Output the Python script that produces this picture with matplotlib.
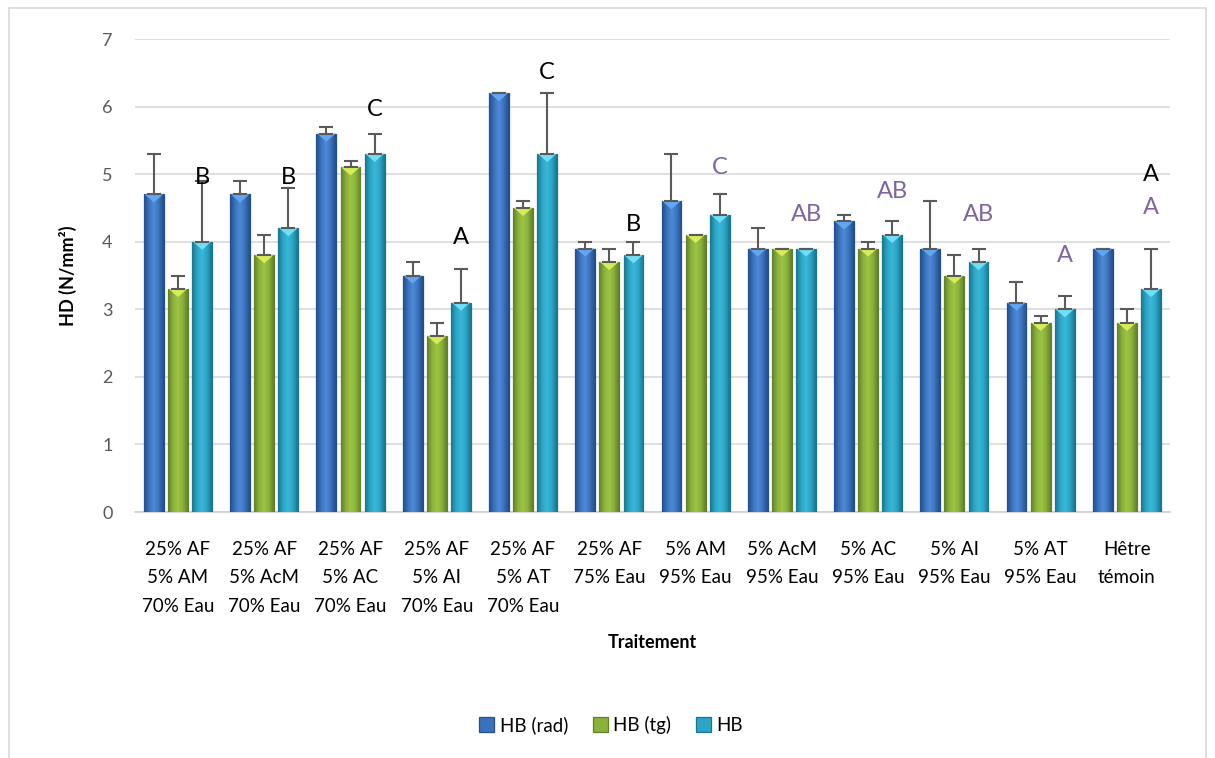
import numpy as np
import matplotlib
matplotlib.use("Agg")
import matplotlib.pyplot as plt
from matplotlib.patches import Rectangle, Polygon
from matplotlib.colors import LinearSegmentedColormap

# ---------------- DATA ----------------
categories = ["25% AF\n5% AM\n70% Eau", "25% AF\n5% AcM\n70% Eau", "25% AF\n5% AC\n70% Eau",
              "25% AF\n5% AI\n70% Eau", "25% AF\n5% AT\n70% Eau", "25% AF\n75% Eau",
              "5% AM\n95% Eau", "5% AcM\n95% Eau", "5% AC\n95% Eau", "5% AI\n95% Eau",
              "5% AT\n95% Eau", "Hêtre\ntémoin"]
hb_rad = [4.7, 4.7, 5.6, 3.5, 6.2, 3.9, 4.6, 3.9, 4.3, 3.9, 3.1, 3.9]
hb_rad_err = [0.6, 0.2, 0.1, 0.2, 0.0, 0.1, 0.7, 0.3, 0.1, 0.7, 0.3, 0.0]
hb_tg = [3.3, 3.8, 5.1, 2.6, 4.5, 3.7, 4.1, 3.9, 3.9, 3.5, 2.8, 2.8]
hb_tg_err = [0.2, 0.3, 0.1, 0.2, 0.1, 0.2, 0.0, 0.0, 0.1, 0.3, 0.1, 0.2]
hb = [4.0, 4.2, 5.3, 3.1, 5.3, 3.8, 4.4, 3.9, 4.1, 3.7, 3.0, 3.3]
hb_err = [0.9, 0.6, 0.3, 0.5, 0.9, 0.2, 0.3, 0.0, 0.2, 0.2, 0.2, 0.6]

# letters above each group (black set and purple set), with their heights
letters_black = ["B", "B", "C", "A", "C", "B", "", "", "", "", "", "A"]
letters_black_y = [4.95, 4.95, 5.95, 4.07, 6.5, 4.25, 0, 0, 0, 0, 0, 5.0]
letters_purple = ["", "", "", "", "", "", "C", "AB", "AB", "AB", "A", "A"]
letters_purple_y = [0, 0, 0, 0, 0, 0, 5.1, 4.4, 4.75, 4.4, 3.8, 4.5]

series = [("HB (rad)", hb_rad, hb_rad_err, "#3a72bd", "#234f8a", "#4f8ad6", "#62a6f2"),
          ("HB (tg)", hb_tg, hb_tg_err, "#8ab13a", "#61802a", "#9dc444", "#d6ec5a"),
          ("HB", hb, hb_err, "#2aa5c6", "#1a7690", "#3bb7d8", "#72def5")]

# ---------------- PLOT ----------------
plt.rcParams['font.family'] = ['Lato', 'DejaVu Sans']
fig = plt.figure(figsize=(12.15, 7.58), dpi=100)
ax = fig.add_axes([0.111, 0.3245, 0.852, 0.624])

x = np.arange(len(categories))
width = 0.23
step = 0.28
bevel = 0.12   # height of the top bevel triangle, in data units

for i, (name, vals, errs, col, dark, mid, light) in enumerate(series):
    pos = x + (i - 1) * step
    bars = ax.bar(pos, vals, width, color=col, edgecolor=dark, linewidth=0.9,
                  zorder=3, label=name)
    cmap = LinearSegmentedColormap.from_list(name, [dark, col, mid, col, dark])
    grad = np.linspace(0, 1, 64).reshape(1, -1)
    for b in bars:
        x0, w, h = b.get_x(), b.get_width(), b.get_height()
        im = ax.imshow(grad, cmap=cmap, aspect='auto', zorder=3.1,
                       extent=(x0, x0 + w, 0, h))
        im.set_clip_path(b)
        ax.add_patch(Polygon([(x0 + 0.01, h), (x0 + w - 0.01, h), (x0 + w / 2, h - bevel)],
                             closed=True, facecolor=light, edgecolor='none', zorder=4))
    ax.errorbar(pos, vals, yerr=[np.zeros(len(errs)), errs], fmt='none',
                ecolor='#5a5a5a', elinewidth=1.5, capsize=5, capthick=1.5, zorder=5)

for i in range(len(categories)):
    if letters_black[i]:
        ax.text(x[i] + step, letters_black_y[i], letters_black[i], ha='center', va='center',
                fontsize=17, color='black', zorder=6)
    if letters_purple[i]:
        ax.text(x[i] + step, letters_purple_y[i], letters_purple[i], ha='center', va='center',
                fontsize=17, color='#8064a2', zorder=6)

ax.set_ylim(0, 7)
ax.set_xlim(-0.5, len(categories) - 0.5)
ax.set_yticks(range(8))
ax.yaxis.grid(True, color='#d9d9d9', linewidth=1.2, zorder=0)
ax.set_axisbelow(True)
for s in ['top', 'right', 'left']:
    ax.spines[s].set_visible(False)
ax.spines['bottom'].set_color('#d0d0d0')
ax.spines['bottom'].set_linewidth(1.2)
ax.tick_params(axis='y', length=0, labelsize=13, labelcolor='#595959', pad=16)
ax.tick_params(axis='x', length=0, labelsize=13.5, pad=21)
ax.set_xticks(x)
ax.set_xticklabels(categories, linespacing=1.8)
ax.set_ylabel("HD (N/mm²)", fontsize=13, fontweight='bold', labelpad=18)
ax.set_xlabel("Traitement", fontsize=13, fontweight='bold', labelpad=14)

ax.legend(loc='center', bbox_to_anchor=(0.46, -0.45), ncol=3, frameon=False,
          fontsize=13.5, handlelength=0.8, handleheight=0.8, columnspacing=1.3,
          handletextpad=0.3)

fig.patches.append(Rectangle((0.007, -0.05), 0.986, 1.04, transform=fig.transFigure,
                             fill=False, edgecolor='#d9d9d9', linewidth=1.2))

fig.savefig("out.png", dpi=100)
